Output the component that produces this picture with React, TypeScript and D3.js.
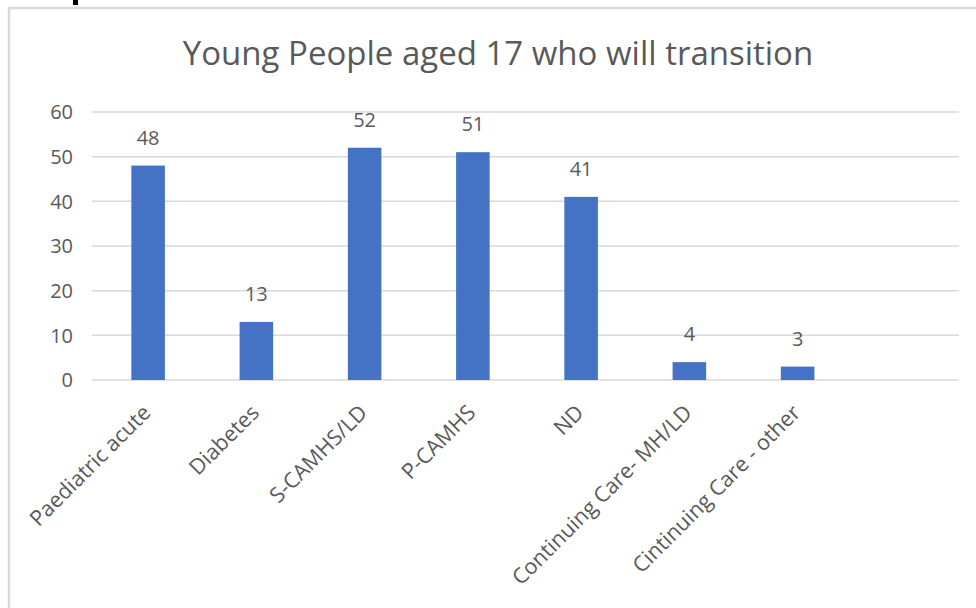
import React from "react";
import * as d3 from "d3";

const categories = [
  "Paediatric acute",
  "Diabetes",
  "S-CAMHS/LD",
  "P-CAMHS",
  "ND",
  "Continuing Care- MH/LD",
  "Cintinuing Care - other",
  "",
];
const values = [48, 13, 52, 51, 41, 4, 3, null];
const yTicks = [0, 10, 20, 30, 40, 50, 60];
const title = "Young People aged 17 who will transition";

const W = 976;
const H = 608;
const plot = { left: 92, right: 959, top: 112, bottom: 380 };
const FONT = "'Open Sans', 'Liberation Sans', sans-serif";
const TEXT = "#595959";

export default function App() {
  const x = d3
    .scaleBand<string>()
    .domain(categories.map((c, i) => `${i}`))
    .range([94, 960])
    .paddingInner(0.69)
    .paddingOuter(0.345);
  const y = d3.scaleLinear().domain([0, 60]).range([plot.bottom, plot.top]);

  return (
    <svg
      width={W}
      height={H}
      style={{ position: "absolute", left: 0, top: 0, background: "#fff" }}
      fontFamily={FONT}
    >
      <rect x={0} y={0} width={W} height={H} fill="#fff" />
      {/* clipped page text above the chart frame */}
      <rect x={73} y={0} width={5} height={5} fill="#000" />
      {/* chart frame */}
      <rect x={9} y={8} width={W + 10} height={H + 10} fill="#fff" stroke="#d9d9d9" strokeWidth={2.5} />

      <text x={498} y={65} textAnchor="middle" fontSize={33} fill={TEXT}>
        {title}
      </text>

      {yTicks.map((t) => (
        <g key={t}>
          <line x1={plot.left} x2={plot.right} y1={y(t)} y2={y(t)} stroke="#d9d9d9" strokeWidth={1.5} />
          <text x={73} y={y(t)} dy="0.36em" textAnchor="end" fontSize={20} fill={TEXT}>
            {t}
          </text>
        </g>
      ))}

      {values.map((v, i) =>
        v == null ? null : (
          <g key={i}>
            <rect
              x={x(`${i}`)!}
              y={y(v)}
              width={x.bandwidth()}
              height={y(0) - y(v)}
              fill="#4472C4"
            />
            <text
              x={x(`${i}`)! + x.bandwidth() / 2}
              y={y(v) - 21}
              textAnchor="middle"
              fontSize={20}
              fill={TEXT}
            >
              {v}
            </text>
          </g>
        )
      )}

      {categories.map((c, i) => {
        const cx = x(`${i}`)! + x.bandwidth() / 2 + 4;
        const cy = 414;
        return (
          <text
            key={i}
            transform={`translate(${cx},${cy}) rotate(-45)`}
            textAnchor="end"
            fontSize={21.5}
            fill={TEXT}
          >
            {c}
          </text>
        );
      })}
    </svg>
  );
}
